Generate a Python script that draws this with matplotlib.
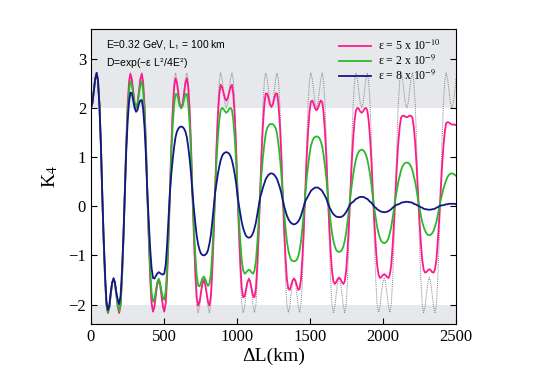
import matplotlib
matplotlib.use("Agg")
import matplotlib.pyplot as plt

plt.rcParams["font.family"] = ["Liberation Serif", "DejaVu Serif"]
plt.rcParams["mathtext.fontset"] = "stix"

# sample positions along Delta L (km), one row per oscillation period
dL = [
    0, 10, 19, 29, 39, 48, 58, 68, 77, 87, 97, 106, 116, 126, 135, 145,
    155, 164, 174, 184, 193, 203, 212, 222, 232, 241, 251, 261, 270, 280, 290, 299,
    309, 319, 328, 338, 348, 357, 367, 377, 386, 396, 406, 415, 425, 435, 444, 454,
    464, 473, 483, 493, 502, 512, 521, 531, 541, 550, 560, 570, 579, 589, 599, 608,
    618, 628, 637, 647, 657, 666, 676, 686, 695, 705, 715, 724, 734, 744, 753, 763,
    773, 782, 792, 802, 811, 821, 830, 840, 850, 859, 869, 879, 888, 898, 908, 917,
    927, 937, 946, 956, 966, 975, 985, 995, 1004, 1014, 1024, 1033, 1043, 1053, 1062, 1072,
    1082, 1091, 1101, 1111, 1120, 1130, 1139, 1149, 1159, 1168, 1178, 1188, 1197, 1207, 1217, 1226,
    1236, 1246, 1255, 1265, 1275, 1284, 1294, 1304, 1313, 1323, 1333, 1342, 1352, 1362, 1371, 1381,
    1391, 1400, 1410, 1420, 1429, 1439, 1448, 1458, 1468, 1477, 1487, 1497, 1506, 1516, 1526, 1535,
    1545, 1555, 1564, 1574, 1584, 1593, 1603, 1613, 1622, 1632, 1642, 1651, 1661, 1671, 1680, 1690,
    1700, 1709, 1719, 1729, 1738, 1748, 1757, 1767, 1777, 1786, 1796, 1806, 1815, 1825, 1835, 1844,
    1854, 1864, 1873, 1883, 1893, 1902, 1912, 1922, 1931, 1941, 1951, 1960, 1970, 1980, 1989, 1999,
    2009, 2018, 2028, 2038, 2047, 2057, 2066, 2076, 2086, 2095, 2105, 2115, 2124, 2134, 2144, 2153,
    2163, 2173, 2182, 2192, 2202, 2211, 2221, 2231, 2240, 2250, 2260, 2269, 2279, 2289, 2298, 2308,
    2318, 2327, 2337, 2347, 2356, 2366, 2375, 2385, 2395, 2404, 2414, 2424, 2433, 2443, 2453, 2462,
    2472, 2482, 2491, 2500,
]

# no decoherence (dotted)
k4_pure = [
    2.00, 2.10, 2.33, 2.59, 2.71, 2.56, 2.06, 1.26, 0.28, -0.71, -1.51, -2.00, -2.16, -2.04, -1.78, -1.55,
    -1.45, -1.55, -1.78, -2.04, -2.16, -2.00, -1.51, -0.71, 0.28, 1.26, 2.06, 2.56, 2.71, 2.59, 2.33, 2.10,
    2.00, 2.10, 2.33, 2.59, 2.71, 2.56, 2.06, 1.26, 0.28, -0.71, -1.51, -2.00, -2.16, -2.04, -1.78, -1.55,
    -1.45, -1.55, -1.78, -2.04, -2.16, -2.00, -1.51, -0.71, 0.28, 1.26, 2.06, 2.56, 2.71, 2.59, 2.33, 2.10,
    2.00, 2.10, 2.33, 2.59, 2.71, 2.56, 2.06, 1.26, 0.28, -0.71, -1.51, -2.00, -2.16, -2.04, -1.78, -1.55,
    -1.45, -1.55, -1.78, -2.04, -2.16, -2.00, -1.51, -0.71, 0.28, 1.26, 2.06, 2.56, 2.71, 2.59, 2.33, 2.10,
    2.00, 2.10, 2.33, 2.59, 2.71, 2.56, 2.06, 1.26, 0.28, -0.71, -1.51, -2.00, -2.16, -2.04, -1.78, -1.55,
    -1.45, -1.55, -1.78, -2.04, -2.16, -2.00, -1.51, -0.71, 0.28, 1.26, 2.06, 2.56, 2.71, 2.59, 2.33, 2.10,
    2.00, 2.10, 2.33, 2.59, 2.71, 2.56, 2.06, 1.26, 0.28, -0.71, -1.51, -2.00, -2.16, -2.04, -1.78, -1.55,
    -1.45, -1.55, -1.78, -2.04, -2.16, -2.00, -1.51, -0.71, 0.28, 1.26, 2.06, 2.56, 2.71, 2.59, 2.33, 2.10,
    2.00, 2.10, 2.33, 2.59, 2.71, 2.56, 2.06, 1.26, 0.28, -0.71, -1.51, -2.00, -2.16, -2.04, -1.78, -1.55,
    -1.45, -1.55, -1.78, -2.04, -2.16, -2.00, -1.51, -0.71, 0.28, 1.26, 2.06, 2.56, 2.71, 2.59, 2.33, 2.10,
    2.00, 2.10, 2.33, 2.59, 2.71, 2.56, 2.06, 1.26, 0.28, -0.71, -1.51, -2.00, -2.16, -2.04, -1.78, -1.55,
    -1.45, -1.55, -1.78, -2.04, -2.16, -2.00, -1.51, -0.71, 0.28, 1.26, 2.06, 2.56, 2.71, 2.59, 2.33, 2.10,
    2.00, 2.10, 2.33, 2.59, 2.71, 2.56, 2.06, 1.26, 0.28, -0.71, -1.51, -2.00, -2.16, -2.04, -1.78, -1.55,
    -1.45, -1.55, -1.78, -2.04, -2.16, -2.00, -1.51, -0.71, 0.28, 1.26, 2.06, 2.56, 2.71, 2.59, 2.33, 2.10,
    2.00, 2.10, 2.33, 2.59,
]

# eps = 5e-10
k4_eps1 = [
    2.00, 2.10, 2.33, 2.59, 2.71, 2.55, 2.06, 1.25, 0.27, -0.71, -1.51, -2.01, -2.17, -2.05, -1.80, -1.57,
    -1.47, -1.57, -1.80, -2.05, -2.17, -2.01, -1.51, -0.71, 0.27, 1.24, 2.04, 2.53, 2.69, 2.58, 2.33, 2.09,
    2.00, 2.09, 2.33, 2.58, 2.69, 2.53, 2.04, 1.24, 0.27, -0.69, -1.48, -1.97, -2.14, -2.04, -1.81, -1.59,
    -1.50, -1.59, -1.81, -2.04, -2.14, -1.97, -1.48, -0.69, 0.27, 1.19, 1.95, 2.43, 2.60, 2.51, 2.29, 2.08,
    2.00, 2.08, 2.29, 2.51, 2.60, 2.43, 1.95, 1.19, 0.27, -0.62, -1.36, -1.84, -2.02, -1.95, -1.76, -1.58,
    -1.50, -1.58, -1.76, -1.95, -2.02, -1.84, -1.36, -0.62, 0.27, 1.12, 1.83, 2.28, 2.47, 2.42, 2.31, 2.20,
    2.15, 2.20, 2.31, 2.42, 2.47, 2.28, 1.83, 1.12, 0.27, -0.54, -1.22, -1.67, -1.85, -1.83, -1.69, -1.54,
    -1.48, -1.54, -1.69, -1.83, -1.85, -1.67, -1.22, -0.54, 0.27, 1.03, 1.66, 2.09, 2.29, 2.29, 2.19, 2.07,
    2.02, 2.07, 2.19, 2.29, 2.29, 2.09, 1.66, 1.03, 0.27, -0.45, -1.06, -1.48, -1.68, -1.70, -1.61, -1.51,
    -1.47, -1.51, -1.61, -1.70, -1.68, -1.48, -1.06, -0.45, 0.27, 0.95, 1.52, 1.92, 2.12, 2.15, 2.08, 1.99,
    1.95, 1.99, 2.08, 2.15, 2.12, 1.92, 1.52, 0.95, 0.27, -0.37, -0.93, -1.32, -1.53, -1.58, -1.54, -1.48,
    -1.45, -1.48, -1.54, -1.58, -1.53, -1.32, -0.93, -0.37, 0.27, 0.87, 1.38, 1.75, 1.95, 2.00, 1.98, 1.93,
    1.90, 1.93, 1.98, 2.00, 1.95, 1.75, 1.38, 0.87, 0.27, -0.32, -0.82, -1.19, -1.39, -1.46, -1.44, -1.40,
    -1.38, -1.40, -1.44, -1.46, -1.39, -1.19, -0.82, -0.32, 0.27, 0.81, 1.28, 1.62, 1.80, 1.84, 1.84, 1.82,
    1.81, 1.82, 1.84, 1.84, 1.80, 1.62, 1.28, 0.81, 0.27, -0.28, -0.75, -1.09, -1.29, -1.35, -1.34, -1.30,
    -1.28, -1.30, -1.34, -1.35, -1.29, -1.09, -0.75, -0.28, 0.27, 0.77, 1.21, 1.52, 1.69, 1.71, 1.70, 1.68,
    1.66, 1.66, 1.66, 1.65,
]

# eps = 2e-9
k4_eps2 = [
    2.00, 2.10, 2.33, 2.59, 2.71, 2.55, 2.06, 1.25, 0.27, -0.71, -1.50, -2.00, -2.17, -2.05, -1.80, -1.56,
    -1.47, -1.56, -1.80, -2.04, -2.13, -1.98, -1.50, -0.71, 0.27, 1.16, 1.90, 2.37, 2.54, 2.46, 2.27, 2.08,
    2.00, 2.08, 2.27, 2.46, 2.54, 2.37, 1.90, 1.16, 0.27, -0.58, -1.29, -1.75, -1.94, -1.89, -1.72, -1.55,
    -1.48, -1.55, -1.72, -1.87, -1.90, -1.73, -1.29, -0.58, 0.27, 1.03, 1.66, 2.09, 2.28, 2.28, 2.16, 2.04,
    1.99, 2.04, 2.16, 2.28, 2.28, 2.09, 1.66, 1.03, 0.27, -0.42, -1.00, -1.40, -1.61, -1.63, -1.56, -1.47,
    -1.43, -1.47, -1.56, -1.62, -1.58, -1.39, -1.00, -0.42, 0.27, 0.87, 1.38, 1.75, 1.95, 2.00, 1.98, 1.93,
    1.90, 1.93, 1.98, 2.00, 1.95, 1.75, 1.38, 0.87, 0.27, -0.29, -0.76, -1.11, -1.31, -1.37, -1.35, -1.31,
    -1.29, -1.31, -1.35, -1.37, -1.31, -1.11, -0.76, -0.29, 0.265, 0.65, 1.00, 1.27, 1.47, 1.59, 1.64, 1.67,
    1.67, 1.67, 1.64, 1.59, 1.47, 1.27, 1.00, 0.65, 0.255, -0.12, -0.45, -0.71, -0.90, -1.02, -1.09, -1.11,
    -1.12, -1.11, -1.09, -1.02, -0.90, -0.71, -0.45, -0.12, 0.245, 0.55, 0.82, 1.05, 1.22, 1.32, 1.39, 1.41,
    1.42, 1.41, 1.39, 1.32, 1.22, 1.05, 0.82, 0.55, 0.23, -0.06, -0.33, -0.54, -0.71, -0.82, -0.89, -0.92,
    -0.93, -0.92, -0.89, -0.82, -0.71, -0.54, -0.33, -0.06, 0.205, 0.42, 0.64, 0.82, 0.95, 1.05, 1.11, 1.14,
    1.15, 1.14, 1.11, 1.05, 0.95, 0.82, 0.64, 0.42, 0.18, -0.05, -0.25, -0.42, -0.55, -0.65, -0.71, -0.74,
    -0.75, -0.74, -0.71, -0.65, -0.55, -0.42, -0.25, -0.05, 0.16, 0.32, 0.49, 0.62, 0.73, 0.81, 0.86, 0.88,
    0.89, 0.88, 0.86, 0.81, 0.73, 0.62, 0.49, 0.32, 0.14, -0.03, -0.19, -0.32, -0.42, -0.50, -0.55, -0.58,
    -0.59, -0.58, -0.55, -0.50, -0.42, -0.32, -0.19, -0.03, 0.12, 0.23, 0.35, 0.45, 0.53, 0.60, 0.64, 0.66,
    0.67, 0.66, 0.64, 0.62,
]

# eps = 8e-9
k4_eps3 = [
    2.00, 2.10, 2.33, 2.59, 2.71, 2.55, 2.06, 1.25, 0.28, -0.65, -1.41, -1.94, -2.11, -2.02, -1.76, -1.55,
    -1.47, -1.55, -1.76, -1.90, -1.99, -1.82, -1.34, -0.62, 0.29, 1.08, 1.71, 2.13, 2.31, 2.30, 2.14, 2.00,
    1.92, 1.96, 2.08, 2.15, 2.16, 1.99, 1.60, 1.00, 0.29, -0.32, -0.88, -1.25, -1.46, -1.47, -1.42, -1.37,
    -1.34, -1.36, -1.38, -1.39, -1.37, -1.19, -0.81, -0.28, 0.29, 0.64, 0.96, 1.21, 1.40, 1.52, 1.58, 1.61,
    1.62, 1.61, 1.58, 1.52, 1.40, 1.21, 0.96, 0.64, 0.28, -0.05, -0.35, -0.59, -0.77, -0.89, -0.96, -0.99,
    -1.00, -0.99, -0.96, -0.89, -0.77, -0.59, -0.35, -0.05, 0.26, 0.45, 0.65, 0.81, 0.93, 1.02, 1.07, 1.09,
    1.10, 1.09, 1.07, 1.02, 0.93, 0.81, 0.65, 0.45, 0.22, 0.01, -0.17, -0.33, -0.45, -0.54, -0.60, -0.63,
    -0.64, -0.63, -0.60, -0.54, -0.45, -0.33, -0.17, 0.01, 0.18, 0.27, 0.38, 0.47, 0.55, 0.60, 0.64, 0.66,
    0.67, 0.66, 0.64, 0.60, 0.55, 0.47, 0.38, 0.27, 0.13, 0.00, -0.10, -0.19, -0.26, -0.31, -0.34, -0.36,
    -0.37, -0.36, -0.34, -0.31, -0.26, -0.19, -0.10, 0.00, 0.10, 0.15, 0.21, 0.26, 0.31, 0.34, 0.36, 0.38,
    0.38, 0.38, 0.36, 0.34, 0.31, 0.26, 0.21, 0.15, 0.065, -0.01, -0.07, -0.12, -0.16, -0.19, -0.21, -0.22,
    -0.22, -0.22, -0.21, -0.19, -0.16, -0.12, -0.07, -0.01, 0.045, 0.07, 0.09, 0.12, 0.15, 0.16, 0.18, 0.19,
    0.19, 0.19, 0.18, 0.16, 0.15, 0.12, 0.09, 0.07, 0.03, -0.01, -0.03, -0.06, -0.08, -0.10, -0.11, -0.12,
    -0.12, -0.12, -0.11, -0.10, -0.08, -0.06, -0.03, -0.01, 0.02, 0.03, 0.04, 0.05, 0.07, 0.08, 0.08, 0.09,
    0.09, 0.09, 0.08, 0.08, 0.07, 0.05, 0.04, 0.03, 0.01, 0.00, -0.02, -0.03, -0.05, -0.06, -0.06, -0.07,
    -0.07, -0.07, -0.06, -0.06, -0.05, -0.03, -0.02, 0.00, 0.01, 0.02, 0.02, 0.03, 0.04, 0.04, 0.05, 0.05,
    0.05, 0.05, 0.05, 0.04,
]

labels = [r"ε = 5 x 10$^{-10}$", r"ε = 2 x 10$^{-9}$", r"ε = 8 x 10$^{-9}$"]
colors = ["#ff1a8c", "#2cb82c", "#15158a"]

fig = plt.figure(figsize=(5.48, 3.84), dpi=100)
ax = fig.add_axes([0.166, 0.1555, 0.666, 0.7685])

# region beyond the classical bound |K4| <= 2
ax.axhspan(2, 3.6, color="#e6e8eb", lw=0, zorder=0)
ax.axhspan(-2.4, -2, color="#e6e8eb", lw=0, zorder=0)

ax.plot(dL, k4_pure, color="#8a8a8a", lw=0.75, ls=(0, (1, 1)), zorder=1)
for ys, c, lab in zip([k4_eps1, k4_eps2, k4_eps3], colors, labels):
    ax.plot(dL, ys, color=c, lw=1.3, label=lab, zorder=2)

ax.set_xlim(0, 2500)
ax.set_ylim(-2.4, 3.6)
ax.set_xticks([0, 500, 1000, 1500, 2000, 2500])
ax.set_yticks([-2, -1, 0, 1, 2, 3])
ax.tick_params(direction="in", right=True, top=False, labelsize=12, length=4)
ax.set_xlabel("ΔL(km)", fontsize=14, labelpad=2)
ax.set_ylabel("K$_4$", fontsize=14, labelpad=6)

ax.text(0.041, 0.947, r"E=0.32 GeV, L$_\mathsf{1}$ = 100 km", transform=ax.transAxes,
        family="Liberation Sans", fontsize=7.5, va="center")
ax.text(0.041, 0.882, r"D=exp(−ε L$^\mathsf{2}$/4E$^\mathsf{2}$)", transform=ax.transAxes,
        family="Liberation Sans", fontsize=7.5, va="center")

ax.legend(loc="upper left", bbox_to_anchor=(0.655, 1.0), frameon=False, fontsize=8.5,
          handlelength=2.7, handletextpad=0.6, labelspacing=0.05, borderpad=0.3)

fig.savefig("out.png", dpi=100)
